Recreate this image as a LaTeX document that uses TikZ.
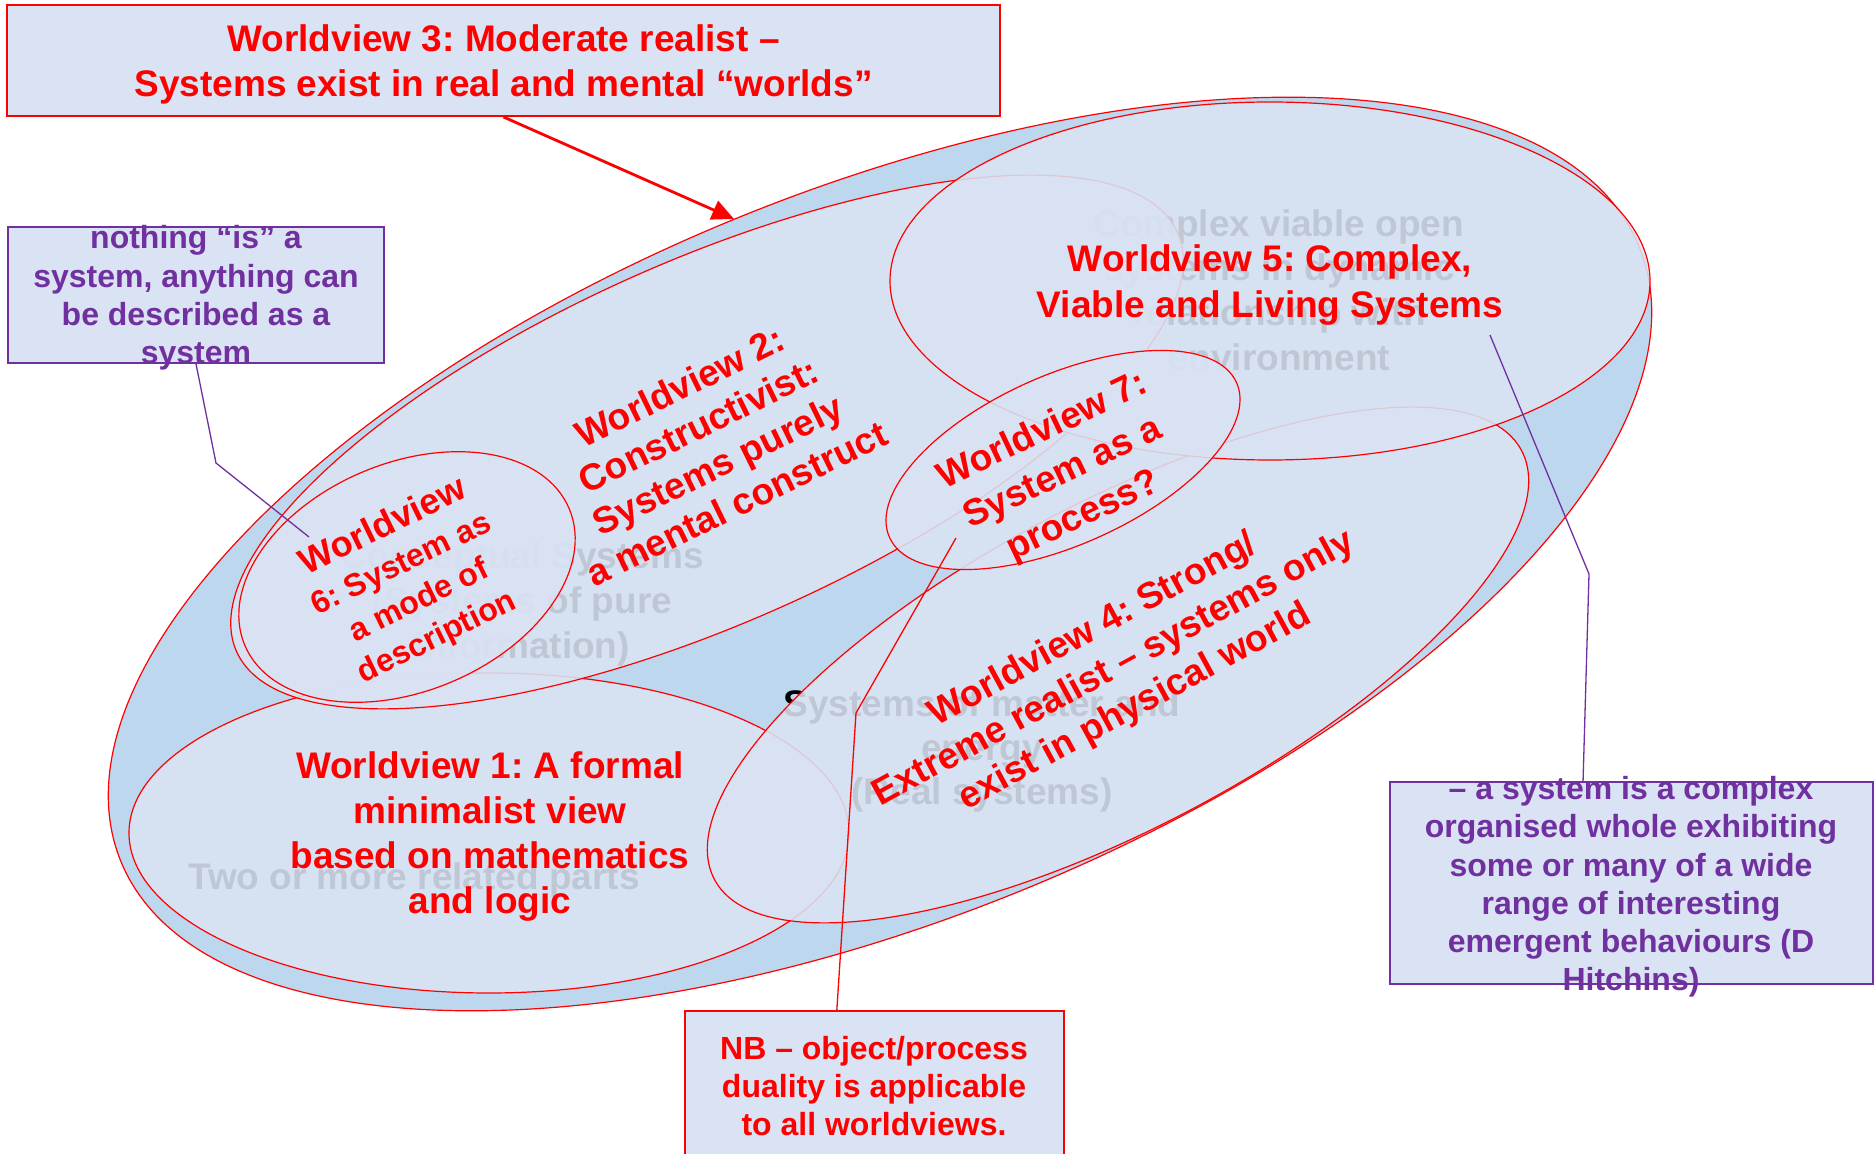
\documentclass[tikz,border=0pt]{standalone}
\usepackage{fontspec}
\setmainfont{Liberation Sans}
\usetikzlibrary{shapes.geometric,arrows.meta,calc}
\frenchspacing
\definecolor{bandblue}{HTML}{BDD7EE}
\definecolor{paleblue}{HTML}{DAE3F3}
\definecolor{wvred}{HTML}{FF0000}
\definecolor{notepurple}{HTML}{7030A0}
\tikzset{
  disc/.style={ellipse, draw=wvred, line width=0.6pt, inner sep=0pt, outer sep=0pt},
  view/.style={disc, fill=paleblue, fill opacity=0.88},
  bigtxt/.style={text=wvred, font=\bfseries\fontsize{18.5}{22.5}\selectfont, align=center, inner sep=0pt},
  ghost/.style={text=black, font=\bfseries\fontsize{18.5}{22.4}\selectfont, align=center, inner sep=0pt},
  notebox/.style={draw=notepurple, fill=paleblue, line width=0.8pt, inner sep=0pt},
  notetxt/.style={text=notepurple, font=\bfseries\fontsize{16}{19.2}\selectfont, align=center, inner sep=0pt},
  redbox/.style={draw=wvred, fill=paleblue, line width=1pt, inner sep=0pt},
  lead/.style={line width=0.65pt},
}
\begin{document}
\begin{tikzpicture}[x=0.5pt,y=-0.5pt]
\path[use as bounding box] (0,0) rectangle (1874,1154);
\clip (0,0) rectangle (1874,1154);

% outer disc: moderate realist world
\node[disc, fill=bandblue, minimum width=819pt, minimum height=365pt, rotate=22] (disc3) at (880,554) {};

% labels lying under the translucent worldview ellipses
\node[ghost] (g1) at (414,880) {Two or more related parts};
\node[ghost] (g5) at (1279,290) {Complex viable open\\systems in dynamic\\relationship with\\environment};
\node[ghost] (g2) at (522,604) {Conceptual Systems\\(Systems of pure\\information)};
\node[ghost, font=\bfseries\fontsize{18.5}{21.8}\selectfont] (g4) at (982,751) {Systems of matter and\\energy\\(Real systems)};

% worldview ellipses, bottom to top
\node[view, minimum width=360pt, minimum height=160pt] (wv1) at (489,833) {};
\node[view, minimum width=515pt, minimum height=181pt, rotate=24] (wv2) at (707,442) {};
\node[view, minimum width=176pt, minimum height=114pt, rotate=22.8] (wv6) at (407,577) {};
\node[view, minimum width=457pt, minimum height=162pt, rotate=28] (wv4) at (1118,665) {};
\node[view, minimum width=380pt, minimum height=179pt] (wv5) at (1270,281) {};
\node[view, minimum width=190pt, minimum height=85pt, rotate=24] (wv7) at (1063,460) {};

% title box and its arrow
\node[redbox, minimum width=496.5pt, minimum height=55.5pt] (box3) at (503.5,60.5) {};
\node[bigtxt] (t3) at (503.5,64) {Worldview 3: Moderate realist –\\Systems exist in real and mental “worlds”};
\coordinate (tip3) at (734,219);
\draw[wvred, line width=1.4pt, -{Triangle[length=11pt,width=10pt]}] (box3.south) -- (tip3);

% note on worldview 6
\node[notebox, minimum width=188pt, minimum height=68pt] (note6) at (196,295) {};
\node[notetxt] (note6t) at (196,298) {nothing “is” a\\system, anything can\\be described as a\\system};
\coordinate (k6) at (216,463);
\coordinate (e6) at (309,537);
\draw[notepurple, lead] (note6.south) -- (k6) -- (e6);

% note on worldview 5
\node[notebox, minimum width=241.5pt, minimum height=101pt] (note5) at (1631.5,883) {};
\node[notetxt, font=\bfseries\fontsize{16}{19.1}\selectfont] (note5t) at (1631,887) {– a system is a complex\\organised whole exhibiting\\some or many of a wide\\range of interesting\\emergent behaviours (D\\Hitchins)};
\coordinate (k5) at (1589,574);
\coordinate (e5) at (1490,335);
\draw[notepurple, lead] ($(note5.north west)!0.4!(note5.north east)$) -- (k5) -- (e5);

% NB box pointing at worldview 7
\node[redbox, line width=0.8pt, minimum width=189.5pt, minimum height=79.5pt] (nb) at (874.5,1090.5) {};
\node[notetxt, text=wvred, font=\bfseries\fontsize{16}{19}\selectfont] (nbt) at (874,1086) {NB – object/process\\duality is applicable\\to all worldviews.};
\coordinate (k7) at (856,713);
\coordinate (e7) at (956,538);
\draw[wvred, lead] ($(nb.north west)!0.401!(nb.north east)$) -- (k7) -- (e7);

% worldview titles
\node[bigtxt, font=\bfseries\fontsize{18.5}{23}\selectfont] (t5) at (1270,285) {Worldview 5: Complex,\\Viable and Living Systems};
\node[bigtxt] (t1) at (490,837) {Worldview 1: A formal\\minimalist view\\based on mathematics\\and logic};
\node[bigtxt, rotate=26, font=\bfseries\fontsize{18.5}{21.7}\selectfont] (t2) at (708,445) {Worldview 2:\\Constructivist:\\Systems purely\\a mental construct};
\node[bigtxt, rotate=28.5, font=\bfseries\fontsize{18.5}{22}\selectfont] (t4) at (1114,669) {Worldview 4: Strong/\\Extreme realist – systems only\\exist in physical world};
\node[bigtxt, rotate=26, font=\bfseries\fontsize{16}{20.3}\selectfont] (t6) at (410,582) {{\fontsize{18}{21}\selectfont Worldview}\\6: System as\\a mode of\\description};
\node[bigtxt, rotate=25.5, font=\bfseries\fontsize{18.5}{23.5}\selectfont] (t7) at (1063,474) {Worldview 7:\\System as a\\process?};
\end{tikzpicture}
\end{document}
